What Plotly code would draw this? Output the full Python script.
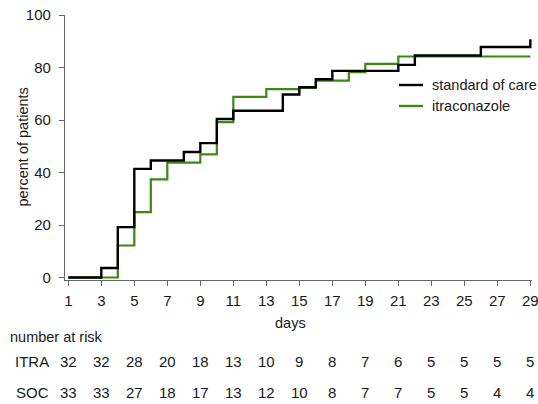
import plotly.graph_objects as go

# --- data -------------------------------------------------------------
soc_days = [1, 3, 4, 5, 6, 8, 9, 10, 11, 14, 15, 16, 17, 21, 22, 26, 29]
soc_pct = [0, 3.6, 19.2, 41.4, 44.6, 47.8, 51.2, 60.4, 63.5, 69.7, 72.5, 75.5, 78.7, 81.0, 84.6, 87.8, 90.8]

itra_days = [1, 4, 5, 6, 7, 9, 10, 11, 13, 15, 16, 18, 19, 21, 29]
itra_pct = [0, 12.2, 24.9, 37.4, 43.8, 46.9, 59.2, 68.8, 71.8, 72.2, 75.0, 78.2, 81.4, 84.2, 84.2]

tick_days = list(range(1, 30, 2))
y_ticks = [0, 20, 40, 60, 80, 100]
risk_itra = [32, 32, 28, 20, 18, 13, 10, 9, 8, 7, 6, 5, 5, 5, 5]
risk_soc = [33, 33, 27, 18, 17, 13, 12, 10, 8, 7, 7, 5, 5, 4, 4]

series_names = ["standard of care", "itraconazole"]
risk_labels = ["ITRA", "SOC"]

BLACK = "#000000"
GREEN = "#3a8a12"
TEXT = "#1a1a1a"
AXIS = "#666666"
FONT = "Liberation Sans, Arial, sans-serif"

fig = go.Figure()
fig.add_trace(go.Scatter(x=itra_days, y=itra_pct, mode="lines", line=dict(shape="hv", color=GREEN, width=2.2),
                         name=series_names[1], showlegend=False))
fig.add_trace(go.Scatter(x=soc_days, y=soc_pct, mode="lines", line=dict(shape="hv", color=BLACK, width=2.4),
                         name=series_names[0], showlegend=False))

L, R, T, B = 65, 6, 15, 124
W, H = 538, 404
pw = W - L - R
ph = H - T - B

def px_x(p):
    return (p - L) / pw

def px_y(p):
    return (H - B - p) / ph

fig.update_layout(
    width=W, height=H,
    margin=dict(l=L, r=R, t=T, b=B, pad=0, autoexpand=False),
    paper_bgcolor="white", plot_bgcolor="white",
    font=dict(family=FONT, size=15, color=TEXT),
    xaxis=dict(range=[0.8, 29.1], tickmode="array", tickvals=tick_days, ticktext=[str(d) for d in tick_days],
               showgrid=False, zeroline=False, showline=True, linecolor=AXIS, linewidth=1.2,
               ticks="outside", ticklen=5, tickcolor=AXIS, tickwidth=1.2, ticklabelstandoff=2,
               ticklabeloverflow="allow", automargin=False),
    yaxis=dict(range=[-0.95, 100], tickmode="array", tickvals=y_ticks,
               showgrid=False, zeroline=False, showline=True, linecolor=AXIS, linewidth=1.2,
               ticks="outside", ticklen=5, tickcolor=AXIS, tickwidth=1.2, ticklabelstandoff=5,
               ticklabeloverflow="allow", automargin=False),
)

ann = []
def add_text(text, x, y, xref="paper", xanchor="center", size=15, **kw):
    ann.append(dict(text=text, x=x, y=y, xref=xref, yref="paper", xanchor=xanchor, yanchor="middle",
                    showarrow=False, font=dict(size=size), **kw))

# axis titles
add_text("percent of patients", px_x(22), 0.5, size=14.5, textangle=-90)
add_text("days", px_x(290), px_y(323), size=14.5)
add_text("number at risk", px_x(8), px_y(337), xanchor="left", size=14.5)
for lab, vals, yp in [(risk_labels[0], risk_itra, 361), (risk_labels[1], risk_soc, 392)]:
    add_text(lab, px_x(51), px_y(yp), xanchor="right")
    for d, v in zip(tick_days, vals):
        add_text(str(v), d, px_y(yp), xref="x")

# legend
for name, col, yp in [(series_names[0], BLACK, 85), (series_names[1], GREEN, 106)]:
    fig.add_shape(type="line", xref="paper", yref="paper", x0=px_x(399), x1=px_x(423),
                  y0=px_y(yp), y1=px_y(yp), line=dict(color=col, width=2.4))
    add_text(name, px_x(430), px_y(yp), xanchor="left", size=14.5)

fig.update_layout(annotations=ann)
fig.write_html("out.html", config={"displayModeBar": False},
               post_script="document.body.style.margin='0';")
